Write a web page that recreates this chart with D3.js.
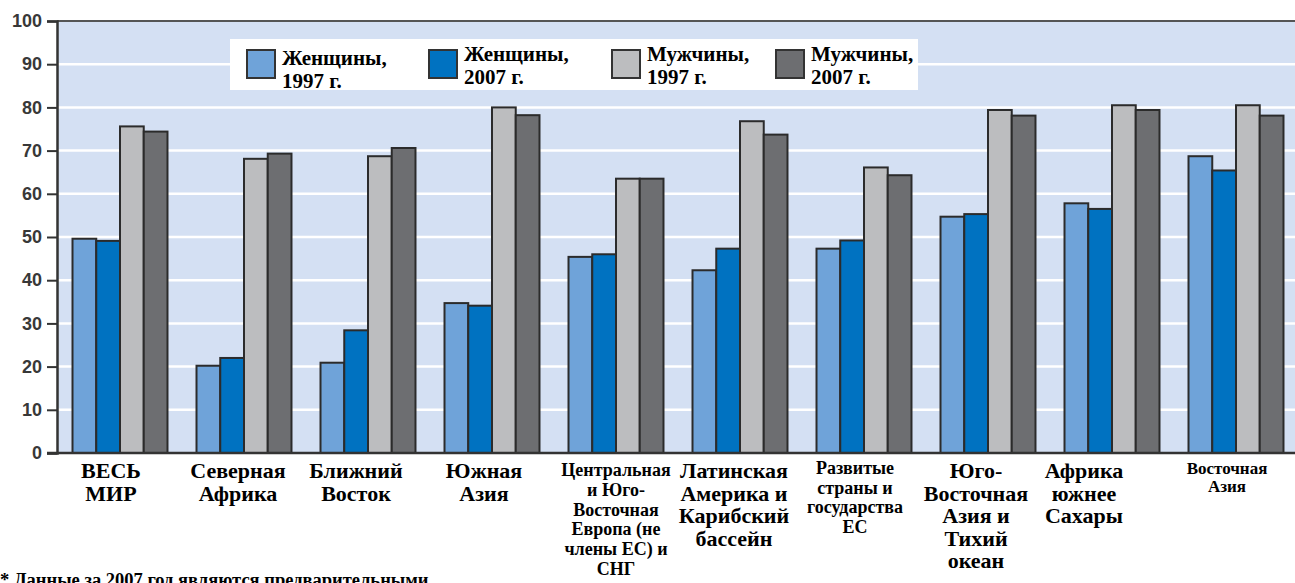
<!DOCTYPE html>
<html>
<head>
<meta charset="utf-8">
<script src="https://cdn.jsdelivr.net/npm/d3@7"></script>
<style>
  body { margin: 0; background: #fff; }
  svg { display: block; }
  .cat { font-family: "Liberation Serif", "Times New Roman", serif; font-weight: bold; fill: #000; }
  .ytick text { font-family: "Liberation Sans", Arial, sans-serif; font-weight: bold; font-size: 18px; fill: #383838; }
</style>
</head>
<body>
<svg id="chart" width="1295" height="583"></svg>
<script>
// Kategorien (Zeilen fuer Beschriftung)
var regionen = [
    ["ВЕСЬ", "МИР"],
    ["Северная", "Африка"],
    ["Ближний", "Восток"],
    ["Южная", "Азия"],
    ["Центральная", "и Юго-", "Восточная", "Европа (не", "члены ЕС) и", "СНГ"],
    ["Латинская", "Америка и", "Карибский", "бассейн"],
    ["Развитые", "страны и", "государства", "ЕС"],
    ["Юго-", "Восточная", "Азия и", "Тихий", "океан"],
    ["Африка", "южнее", "Сахары"],
    ["Восточная", "Азия"]
];
var serien = ["Женщины, 1997 г.", "Женщины, 2007 г.", "Мужчины, 1997 г.", "Мужчины, 2007 г."];

// Werte je Serie
var frauen1997 = [49.6, 20.2, 20.9, 34.7, 45.4, 42.3, 47.3, 54.7, 57.8, 68.7];
var frauen2007 = [49.1, 22.0, 28.4, 34.1, 46.0, 47.3, 49.2, 55.3, 56.5, 65.4];
var maenner1997 = [75.6, 68.1, 68.7, 80.0, 63.5, 76.8, 66.1, 79.4, 80.5, 80.5];
var maenner2007 = [74.4, 69.3, 70.6, 78.2, 63.5, 73.7, 64.3, 78.1, 79.4, 78.1];
var yTicks = [0, 10, 20, 30, 40, 50, 60, 70, 80, 90, 100];
var fussnote = "* Данные за 2007 год являются предварительными";

var werte = [frauen1997, frauen2007, maenner1997, maenner2007];
var farben = ["#6fa3d9", "#0072c1", "#bcbdbf", "#6d6e71"];

var svg = d3.select("#chart");
var pLeft = 57, pRight = 1295, pTop = 21, pBottom = 453;

var xScale = d3.scaleBand().domain(d3.range(regionen.length))
    .range([58, 1298]).paddingInner(0.234).paddingOuter(0.117);
var xSub = d3.scaleBand().domain(d3.range(serien.length)).range([0, xScale.bandwidth()]);
var yScale = d3.scaleLinear().domain([0, 100]).range([pBottom, pTop]);

// Hintergrund
svg.append("rect").attr("x", pLeft).attr("y", pTop)
    .attr("width", pRight - pLeft).attr("height", pBottom - pTop)
    .attr("fill", "#d4e0f3");

// Gitterlinien
svg.append("g").selectAll("line").data(yTicks.slice(1, -1)).enter().append("line")
    .attr("x1", pLeft).attr("x2", pRight)
    .attr("y1", d => yScale(d)).attr("y2", d => yScale(d))
    .attr("stroke", "#fff").attr("stroke-width", 2.5);

// obere Linie
svg.append("line").attr("x1", pLeft).attr("x2", pRight)
    .attr("y1", pTop).attr("y2", pTop)
    .attr("stroke", "#555").attr("stroke-width", 2);

// Legende
var legX = [247, 429, 612, 776];
var legTextY = [65, 61, 61, 61];
svg.append("rect").attr("x", 230).attr("y", 39).attr("width", 688).attr("height", 51).attr("fill", "#fff");
var leg = svg.append("g").selectAll("g").data(serien).enter().append("g");
leg.append("rect")
    .attr("x", (d, i) => legX[i]).attr("y", 50)
    .attr("width", 28).attr("height", 28)
    .attr("fill", (d, i) => farben[i])
    .attr("stroke", "#333").attr("stroke-width", 2);
leg.append("text")
    .attr("class", "cat")
    .attr("x", (d, i) => legX[i] + 35)
    .attr("y", (d, i) => legTextY[i])
    .style("font-size", "21px")
    .selectAll("tspan").data(d => { var p = d.split(" "); return [p[0], p[1] + " " + p[2]]; })
    .enter().append("tspan")
    .attr("x", function () { return d3.select(this.parentNode).attr("x"); })
    .attr("dy", (d, i) => i === 0 ? 0 : 23)
    .text(d => d);

// Balken
var gruppen = svg.append("g").selectAll("g").data(regionen).enter().append("g")
    .attr("transform", (d, i) => "translate(" + xScale(i) + ",0)");
gruppen.selectAll("rect")
    .data((d, i) => werte.map((s, j) => ({ s: j, v: s[i] })))
    .enter().append("rect")
    .attr("x", d => xSub(d.s))
    .attr("y", d => yScale(d.v))
    .attr("width", xSub.bandwidth())
    .attr("height", d => yScale(0) - yScale(d.v))
    .attr("fill", d => farben[d.s])
    .attr("stroke", "#2b2b2b").attr("stroke-width", 2);

// Y-Achse
svg.append("g")
    .attr("class", "ytick")
    .attr("transform", "translate(" + pLeft + ",0)")
    .call(d3.axisLeft(yScale).tickValues(yTicks).tickSize(10).tickPadding(5))
    .call(g => g.select(".domain").attr("stroke", "#333").attr("stroke-width", 2.5))
    .call(g => g.selectAll(".tick line").attr("stroke", "#333").attr("stroke-width", 2));

// X-Achse (Nulllinie)
svg.append("line").attr("x1", pLeft - 10).attr("x2", pRight)
    .attr("y1", pBottom).attr("y2", pBottom)
    .attr("stroke", "#333").attr("stroke-width", 2.5);

// Beschriftung Kategorien
var labSize = [22, 22, 22, 22, 18, 22, 18, 22, 22, 17];
var labLine = [22.5, 22.5, 22.5, 22.5, 19.8, 22.5, 19.5, 22.5, 22.5, 17.5];
var labY = [478, 478, 478, 478, 476, 478, 474, 478, 478, 474];
var labShift = [-9, -6, -12, -8, 0, -6, -9, -12, -28, -9];
svg.append("g").selectAll("text").data(regionen).enter().append("text")
    .attr("class", "cat")
    .attr("text-anchor", "middle")
    .attr("y", (d, i) => labY[i])
    .style("font-size", (d, i) => labSize[i] + "px")
    .each(function (zeilen, i) {
        var cx = xScale(i) + xScale.bandwidth() / 2 + labShift[i];
        d3.select(this).selectAll("tspan").data(zeilen).enter().append("tspan")
            .attr("x", cx)
            .attr("dy", (d, k) => k === 0 ? 0 : labLine[i])
            .text(d => d);
    });

// Fussnote
svg.append("text").attr("class", "cat")
    .attr("x", 0).attr("y", 586)
    .style("font-size", "18.5px")
    .text(fussnote);
</script>
</body>
</html>
